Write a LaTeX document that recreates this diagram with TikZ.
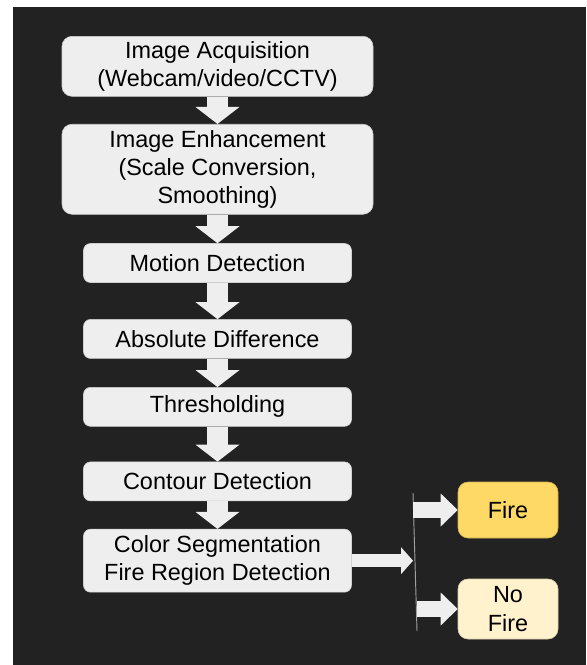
\documentclass[tikz,border=0pt]{standalone}
\usepackage{fontspec}
\setmainfont{Liberation Sans}
\usetikzlibrary{arrows.meta,positioning,calc}
\definecolor{fdBg}{HTML}{222222}
\definecolor{fdBox}{HTML}{EEEEEE}
\definecolor{fdEdge}{HTML}{CFCFCF}
\definecolor{fdFire}{HTML}{FFD966}
\definecolor{fdNoFire}{HTML}{FFF2CC}
\definecolor{fdBar}{HTML}{A0A0A0}
\tikzset{
  % Wide grey step box (top two steps)
  wbox/.style={rectangle,rounded corners=0.3cm,
    minimum width=9.33cm,inner sep=0pt,
    align=center,draw=fdEdge,fill=fdBox,line width=0.5pt,
    font=\fontsize{20}{24}\selectfont,text=black},
  % Narrow grey step box
  sbox/.style={rectangle,rounded corners=0.21cm,
    minimum width=8.04cm,minimum height=1.17cm,inner sep=0pt,
    align=center,draw=fdEdge,fill=fdBox,line width=0.5pt,
    font=\fontsize{20}{24}\selectfont,text=black},
  % Result box (yellow)
  rbox/.style={rectangle,rounded corners=0.3cm,
    minimum width=3cm,inner sep=0pt,
    align=center,line width=0.5pt,
    font=\fontsize{20}{24}\selectfont,text=black},
  % Block arrows
  varr/.style={draw=fdBox,line width=0.63cm,
    -{Triangle[length=0.51cm,width=1.32cm,line width=0pt]},color=fdBox},
  harr/.style={draw=fdBox,line width=0.39cm,
    -{Triangle[length=0.36cm,width=0.81cm,line width=0pt]},color=fdBox},
  farr/.style={draw=fdBox,line width=0.48cm,
    -{Triangle[length=0.51cm,width=0.99cm,line width=0pt]},color=fdBox},
  barline/.style={draw=fdBar,line width=0.8pt},
}
\begin{document}
\begin{tikzpicture}
  \useasboundingbox (0,0) rectangle (17.58,-19.95);
  \fill[fdBg] (0.39,-0.21) rectangle (17.58,-19.95);

  \node[wbox,minimum height=1.8cm] (acq) at (6.525,-1.99)
    {Image Acquisition\\(Webcam/video/CCTV)};
  \node[wbox,minimum height=2.7cm,below=0.82cm of acq] (enh)
    {Image Enhancement\\(Scale Conversion,\\Smoothing)};
  \node[sbox,below=0.86cm of enh] (mot) {Motion Detection};
  \node[sbox,below=1.09cm of mot] (absd) {Absolute Difference};
  \node[sbox,below=0.85cm of absd] (thr) {Thresholding};
  \node[sbox,below=1.05cm of thr] (cont) {Contour Detection};
  \node[sbox,minimum height=1.89cm,below=0.83cm of cont] (seg)
    {Color Segmentation\\Fire Region Detection};

  \node[rbox,minimum height=1.68cm,draw=fdFire!80!black,fill=fdFire] (fire)
    at (15.24,-15.3) {Fire};
  \node[rbox,minimum height=1.8cm,draw=fdNoFire!85!black,fill=fdNoFire] (nofire)
    at (15.24,-18.27) {No\\Fire};

  \draw[varr] (acq.south) -- (enh.north);
  \draw[varr] (enh.south) -- (mot.north);
  \draw[varr] (mot.south) -- (absd.north);
  \draw[varr] (absd.south) -- (thr.north);
  \draw[varr] (thr.south) -- (cont.north);
  \draw[varr] (cont.south) -- (seg.north);

  % split bar
  \coordinate (bartop) at (12.39,-14.79);
  \coordinate (barbot) at (12.51,-18.93);
  \draw[barline] (bartop) -- (barbot);

  \draw[harr] (seg.east) -- (seg.east -| bartop);
  \draw[farr] (bartop |- fire.west) -- (fire.west);
  \draw[farr] (barbot |- nofire.west) -- (nofire.west);
\end{tikzpicture}
\end{document}
